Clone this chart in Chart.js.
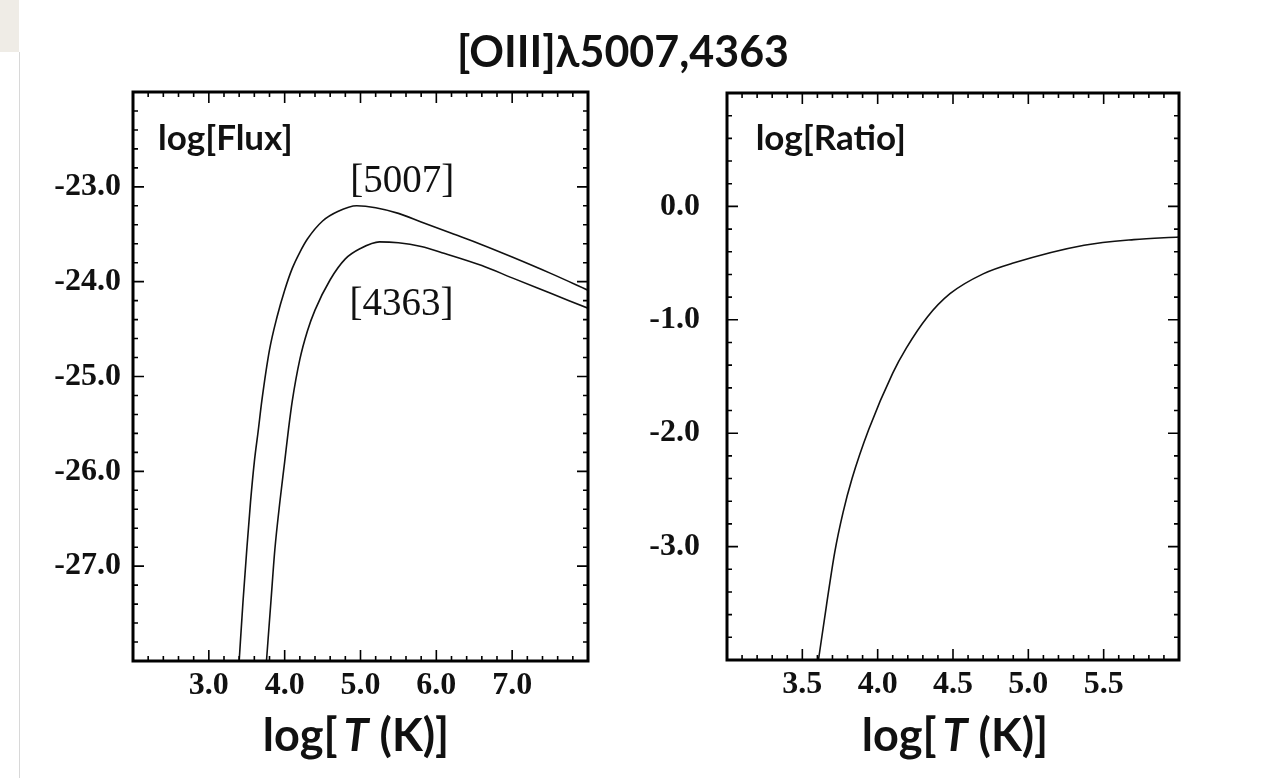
<!DOCTYPE html>
<html>
<head>
<meta charset="utf-8">
<script src="https://cdn.jsdelivr.net/npm/chart.js@4.4.1/dist/chart.umd.min.js"></script>
<style>
  html, body { margin: 0; padding: 0; background: #fff; }
  #page { position: relative; width: 1272px; height: 778px; overflow: hidden; }
  #corner { position: absolute; left: 0; top: 0; width: 19px; height: 52px; background: #efece6; }
  #edge { position: absolute; left: 19px; top: 52px; width: 1px; height: 726px; background: #d8d8d8; }
  canvas { position: absolute; top: 0; }
  #cLeft { left: 0; }
  #cRight { left: 636px; }
  .ttl { position: absolute; font-family: Lato, "Open Sans", sans-serif; font-weight: 700; color: #111; line-height: 1; white-space: nowrap; transform: translateX(-50%); }
  .ttl i { padding-left: 6px; }
  #mainTitle { left: 623px; top: 29px; font-size: 43px; }
  .xt { top: 712px; font-size: 45px; }
  #xtLeft { left: 356px; }
  #xtRight { left: 955px; }
</style>
</head>
<body>
<div id="page">
  <div id="corner"></div>
  <div id="edge"></div>
  <canvas id="cLeft" width="636" height="778"></canvas>
  <canvas id="cRight" width="636" height="778"></canvas>
  <div id="mainTitle" class="ttl">[OIII]λ5007,4363</div>
  <div id="xtLeft" class="ttl xt">log[<i>T</i> (K)]</div>
  <div id="xtRight" class="ttl xt">log[<i>T</i> (K)]</div>
</div>
<script>
// --- DATA ---
// left panel: line fluxes vs temperature
const logT5007 = [3.40, 3.45, 3.50, 3.55, 3.60, 3.65, 3.70, 3.80, 3.90, 4.00, 4.10, 4.20, 4.30, 4.50, 4.70, 4.95, 5.20, 5.50, 5.80, 6.20, 6.60, 7.00, 7.50, 8.00];
const flux5007 = [-28.0, -27.38, -26.83, -26.32, -25.90, -25.58, -25.25, -24.72, -24.37, -24.09, -23.86, -23.69, -23.55, -23.36, -23.26, -23.20, -23.22, -23.28, -23.37, -23.49, -23.61, -23.74, -23.91, -24.09];

const logT4363 = [3.76, 3.82, 3.87, 3.94, 4.00, 4.05, 4.10, 4.20, 4.30, 4.40, 4.60, 4.80, 5.00, 5.25, 5.50, 5.80, 6.10, 6.60, 7.00, 7.50, 8.00];
const flux4363 = [-28.0, -27.36, -26.83, -26.30, -25.90, -25.56, -25.26, -24.82, -24.52, -24.30, -23.98, -23.76, -23.65, -23.58, -23.59, -23.63, -23.70, -23.83, -23.96, -24.12, -24.28];

// right panel: log(4363/5007) ratio
const logTRatio = [3.607, 3.66, 3.715, 3.77, 3.83, 3.94, 4.10, 4.19, 4.33, 4.48, 4.70, 4.90, 5.37, 5.70, 6.00];
const ratio = [-4.0, -3.52, -3.05, -2.70, -2.40, -1.97, -1.47, -1.25, -0.975, -0.77, -0.595, -0.50, -0.343, -0.293, -0.27];

// axis ranges / tick steps
const fluxX = { min: 2, max: 8, major: 1, minor: 0.2 };
const fluxY = { min: -28, max: -22, major: 1, minor: 0.2 };
const ratioX = { min: 3, max: 6, major: 0.5, minor: 0.1 };
const ratioY = { min: -4, max: 1, major: 1, minor: 0.2 };

const toPts = (xs, ys) => xs.map((x, i) => ({ x: x, y: ys[i] }));

// --- PLUGIN: boxed frame with inward ticks on all sides + in-plot labels ---
const frameTicks = {
    id: 'frameTicks',
    afterDraw(chart, args, opts) {
        const ctx = chart.ctx;
        const a = chart.chartArea;
        const sx = chart.scales.x, sy = chart.scales.y;
        ctx.save();
        ctx.strokeStyle = '#000';
        ctx.lineWidth = 1.6;

        const walk = (ax, fn) => {
            const n = Math.round((ax.max - ax.min) / ax.minor);
            for (let i = 0; i <= n; i++) {
                const v = ax.min + i * ax.minor;
                const r = v / ax.major;
                fn(v, Math.abs(r - Math.round(r)) < 1e-6);
            }
        };
        ctx.beginPath();
        walk(opts.xAxis, (v, major) => {
            const p = sx.getPixelForValue(v);
            const len = major ? 11 : 5;
            ctx.moveTo(p, a.bottom); ctx.lineTo(p, a.bottom - len);
            ctx.moveTo(p, a.top); ctx.lineTo(p, a.top + len);
        });
        walk(opts.yAxis, (v, major) => {
            const p = sy.getPixelForValue(v);
            const len = major ? 11 : 5;
            ctx.moveTo(a.left, p); ctx.lineTo(a.left + len, p);
            ctx.moveTo(a.right, p); ctx.lineTo(a.right - len, p);
        });
        ctx.stroke();

        ctx.lineWidth = 3;
        ctx.strokeRect(a.left, a.top, a.right - a.left, a.bottom - a.top);

        ctx.fillStyle = '#111';
        ctx.textBaseline = 'alphabetic';
        (opts.labels || []).forEach(l => {
            ctx.font = l.font;
            ctx.textAlign = l.align;
            ctx.fillText(l.text, sx.getPixelForValue(l.x), sy.getPixelForValue(l.y));
        });
        ctx.restore();
    }
};

const tickFont = { family: '"Liberation Serif", "DejaVu Serif", serif', size: 32, weight: 'bold' };
const sansLabel = '700 35px Lato, "Open Sans", sans-serif';
const serifLabel = '400 39px "Liberation Serif", serif';

function makeChart(id, datasets, xr, yr, fit, labels) {
    const hideEnds = r => v => (Math.abs(v - r.min) < 1e-9 || Math.abs(v - r.max) < 1e-9) ? '' : v.toFixed(1);
    return new Chart(document.getElementById(id), {
        type: 'scatter',
        data: {
            datasets: datasets.map(d => ({
                data: d,
                showLine: true,
                borderColor: '#111',
                borderWidth: 1.6,
                pointRadius: 0,
                cubicInterpolationMode: 'monotone'
            }))
        },
        options: {
            responsive: false,
            animation: false,
            devicePixelRatio: 1,
            layout: { padding: { left: 0, top: fit.top, right: fit.right, bottom: 0 } },
            plugins: {
                legend: { display: false },
                tooltip: { enabled: false },
                frameTicks: { xAxis: xr, yAxis: yr, labels: labels }
            },
            scales: {
                x: {
                    type: 'linear', min: xr.min, max: xr.max,
                    grid: { display: false, drawTicks: false },
                    border: { display: false },
                    ticks: { stepSize: xr.major, color: '#111', font: tickFont, padding: 6, maxRotation: 0, autoSkip: false, callback: hideEnds(xr) },
                    afterFit: s => { s.height = fit.xh; }
                },
                y: {
                    type: 'linear', min: yr.min, max: yr.max,
                    grid: { display: false, drawTicks: false },
                    border: { display: false },
                    ticks: { stepSize: yr.major, color: '#111', font: tickFont, padding: fit.ypad, autoSkip: false, callback: hideEnds(yr) },
                    afterFit: s => { s.width = fit.yw; }
                }
            }
        },
        plugins: [frameTicks]
    });
}

makeChart('cLeft',
    [toPts(logT5007, flux5007), toPts(logT4363, flux4363)],
    fluxX, fluxY,
    { top: 92, right: 48, xh: 117, yw: 133, ypad: 12 },
    [
        { text: 'log[Flux]', x: 2.33, y: -22.61, font: sansLabel, align: 'left' },
        { text: '[5007]', x: 5.55, y: -23.05, font: serifLabel, align: 'center' },
        { text: '[4363]', x: 5.54, y: -24.35, font: serifLabel, align: 'center' }
    ]);

makeChart('cRight',
    [toPts(logTRatio, ratio)],
    ratioX, ratioY,
    { top: 93, right: 93, xh: 118, yw: 91, ypad: 27 },
    [
        { text: 'log[Ratio]', x: 3.19, y: 0.50, font: sansLabel, align: 'left' }
    ]);
</script>
</body>
</html>
